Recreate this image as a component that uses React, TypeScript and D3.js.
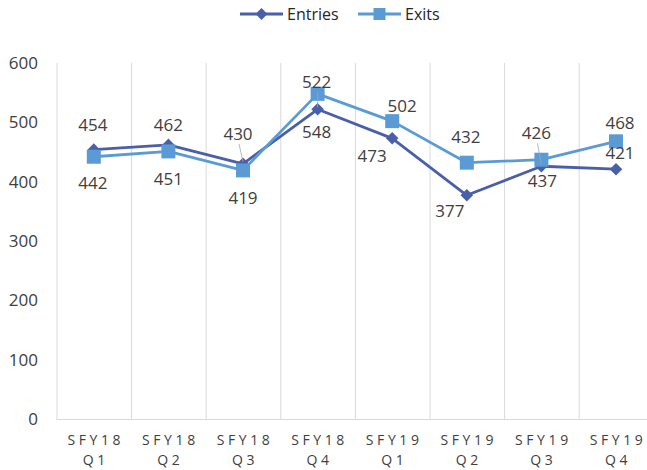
import React, { useEffect, useRef } from "react";
import * as d3 from "d3";

const categories = ["SFY18 Q1", "SFY18 Q2", "SFY18 Q3", "SFY18 Q4", "SFY19 Q1", "SFY19 Q2", "SFY19 Q3", "SFY19 Q4"];
const entries = [454, 462, 430, 522, 473, 377, 426, 421];
const exits = [442, 451, 419, 548, 502, 432, 437, 468];
const yTicks = [0, 100, 200, 300, 400, 500, 600];

// label placement relative to the point (dx, dy, leader line?)
const entryLabelOffsets: [number, number, boolean][] = [
  [-1, -25, false], [0, -20, false], [-5, -30, true], [-1, -27, true],
  [-20, 18, false], [-17, 16, false], [-5, -33, true], [4, -16, false],
];
const exitLabelOffsets: [number, number, boolean][] = [
  [-1, 26, false], [0, 27, false], [0, 27, false], [-1, 38, false],
  [10, -15, false], [-1, -26, false], [1, 21, false], [4, -18, false],
];

const ENTRY_COLOR = "#4a5fa9";
const EXIT_COLOR = "#5b9bd5";
const FONT = "'Open Sans', sans-serif";

export default function App() {
  const ref = useRef<SVGSVGElement>(null);

  useEffect(() => {
    const width = 647;
    const height = 470;
    const margin = { top: 63, left: 56.5, bottom: 51 };
    const step = 74.6;

    const svg = d3.select(ref.current!);
    svg.selectAll("*").remove();
    svg.attr("width", width).attr("height", height);

    const x = d3
      .scaleBand<string>()
      .domain(categories)
      .range([margin.left, margin.left + step * categories.length]);
    const y = d3
      .scaleLinear()
      .domain([0, 600])
      .range([height - margin.bottom, margin.top]);
    const cx = (i: number) => (x(categories[i]) ?? 0) + x.bandwidth() / 2;

    // vertical gridlines
    const grid = svg.append("g");
    grid
      .selectAll("line")
      .data(categories)
      .enter()
      .append("line")
      .attr("x1", (d) => x(d)! + 0.5)
      .attr("x2", (d) => x(d)! + 0.5)
      .attr("y1", y(600))
      .attr("y2", y(0))
      .attr("stroke", "#d9d9d9")
      .attr("stroke-width", 1);

    // x axis line
    svg
      .append("line")
      .attr("x1", margin.left)
      .attr("x2", width)
      .attr("y1", Math.round(y(0)) + 0.5)
      .attr("y2", Math.round(y(0)) + 0.5)
      .attr("stroke", "#d9d9d9");

    // y tick labels
    svg
      .append("g")
      .selectAll("text")
      .data(yTicks)
      .enter()
      .append("text")
      .attr("x", 38)
      .attr("y", (d) => y(d))
      .attr("dy", "0.35em")
      .attr("text-anchor", "end")
      .attr("font-family", FONT)
      .attr("font-size", 17)
      .attr("fill", "#404040")
      .text((d) => d);

    // x tick labels (two lines, spaced letters)
    const xl = svg
      .append("g")
      .selectAll("text")
      .data(categories)
      .enter()
      .append("text")
      .attr("text-anchor", "middle")
      .attr("font-family", FONT)
      .attr("font-size", 14)
      .attr("letter-spacing", 3.6)
      .attr("fill", "#404040");
    xl.append("tspan")
      .attr("x", (d, i) => cx(i) + 2)
      .attr("y", 445)
      .text((d) => d.split(" ")[0]);
    xl.append("tspan")
      .attr("x", (d, i) => cx(i) + 2)
      .attr("y", 465)
      .text((d) => d.split(" ")[1]);

    const line = d3
      .line<number>()
      .x((d, i) => cx(i))
      .y((d) => y(d));

    // Entries
    svg
      .append("path")
      .datum(entries)
      .attr("fill", "none")
      .attr("stroke", ENTRY_COLOR)
      .attr("stroke-width", 2.8)
      .attr("stroke-linejoin", "round")
      .attr("d", line);
    svg
      .append("g")
      .selectAll("path")
      .data(entries)
      .enter()
      .append("path")
      .attr("d", d3.symbol(d3.symbolDiamond2, 100)() as string)
      .attr("transform", (d, i) => `translate(${cx(i)},${y(d)})`)
      .attr("fill", ENTRY_COLOR);

    // Exits
    svg
      .append("path")
      .datum(exits)
      .attr("fill", "none")
      .attr("stroke", EXIT_COLOR)
      .attr("stroke-width", 2.8)
      .attr("stroke-linejoin", "round")
      .attr("d", line);
    svg
      .append("g")
      .selectAll("rect")
      .data(exits)
      .enter()
      .append("rect")
      .attr("x", (d, i) => cx(i) - 7)
      .attr("y", (d) => y(d) - 7)
      .attr("width", 14)
      .attr("height", 14)
      .attr("fill", EXIT_COLOR);

    // data labels
    const addLabels = (values: number[], offsets: [number, number, boolean][]) => {
      const g = svg.append("g");
      values.forEach((v, i) => {
        const [dx, dy, leader] = offsets[i];
        const lx = cx(i) + dx;
        const ly = y(v) + dy;
        if (leader) {
          g.append("line")
            .attr("x1", lx + 1)
            .attr("y1", ly + 10)
            .attr("x2", cx(i))
            .attr("y2", y(v) - 2)
            .attr("stroke", "#a6a6a6")
            .attr("stroke-width", 0.8);
        }
        g.append("text")
          .attr("x", lx)
          .attr("y", ly)
          .attr("dy", "0.36em")
          .attr("text-anchor", "middle")
          .attr("font-family", FONT)
          .attr("font-size", 17)
          .attr("fill", "#404040")
          .text(v);
      });
    };
    addLabels(entries, entryLabelOffsets);
    addLabels(exits, exitLabelOffsets);

    // legend
    const legend = svg.append("g");
    legend
      .append("line")
      .attr("x1", 240)
      .attr("x2", 283)
      .attr("y1", 14)
      .attr("y2", 14)
      .attr("stroke", ENTRY_COLOR)
      .attr("stroke-width", 2.8);
    legend
      .append("path")
      .attr("d", d3.symbol(d3.symbolDiamond2, 90)() as string)
      .attr("transform", "translate(261.5,14)")
      .attr("fill", ENTRY_COLOR);
    legend
      .append("text")
      .attr("x", 287)
      .attr("y", 14)
      .attr("dy", "0.35em")
      .attr("font-family", FONT)
      .attr("font-size", 16)
      .attr("fill", "#262626")
      .text("Entries");
    legend
      .append("line")
      .attr("x1", 358)
      .attr("x2", 401)
      .attr("y1", 14)
      .attr("y2", 14)
      .attr("stroke", EXIT_COLOR)
      .attr("stroke-width", 2.8);
    legend
      .append("rect")
      .attr("x", 373.5)
      .attr("y", 8)
      .attr("width", 12)
      .attr("height", 12)
      .attr("fill", EXIT_COLOR);
    legend
      .append("text")
      .attr("x", 405)
      .attr("y", 14)
      .attr("dy", "0.35em")
      .attr("font-family", FONT)
      .attr("font-size", 16)
      .attr("fill", "#262626")
      .text("Exits");
  }, []);

  return (
    <svg
      ref={ref}
      style={{ position: "absolute", left: 0, top: 0, background: "#fff" }}
    />
  );
}
